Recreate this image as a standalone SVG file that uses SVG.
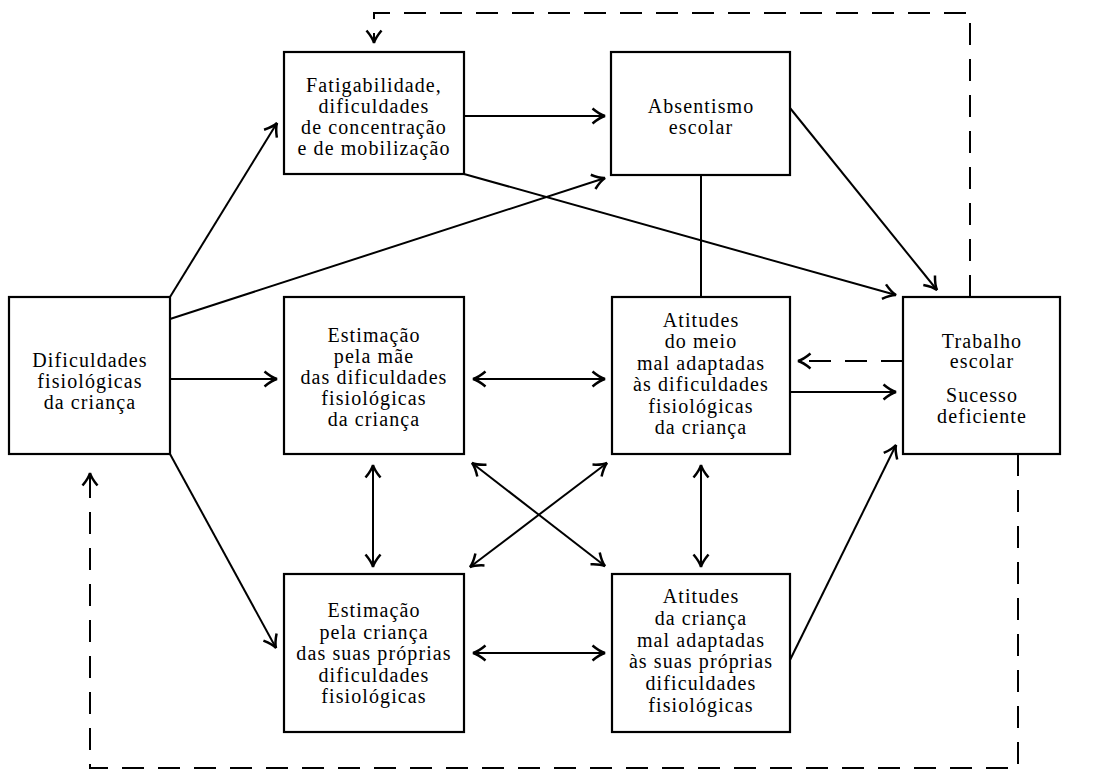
<svg xmlns="http://www.w3.org/2000/svg" width="1108" height="774" viewBox="0 0 1108 774">
<style>
.box{fill:#fff;stroke:#000;stroke-width:2.2}
.t{font-family:"Liberation Serif","Times New Roman",serif;font-size:20px;letter-spacing:1.1px;text-anchor:middle;fill:#000}
.c{fill:none;stroke:#000;stroke-width:2}
.a{marker-end:url(#ah)}
.b{marker-start:url(#ah);marker-end:url(#ah)}
.d{stroke-dasharray:22 14}
</style>
<defs>
<marker id="ah" markerUnits="userSpaceOnUse" markerWidth="20" markerHeight="20" viewBox="-12 -8 14 16" refX="0" refY="0" orient="auto-start-reverse">
<path d="M-10,-6 Q-4,-1 0,0 Q-4,1 -10,6" fill="none" stroke="#000" stroke-width="2"/>
</marker>
</defs>
<rect width="1108" height="774" fill="#fff"/>
<g id="connectors">
<line class="c a" x1="170" y1="297" x2="277" y2="123"/>
<line class="c a" x1="170" y1="319" x2="605" y2="178"/>
<line class="c a" x1="170" y1="379" x2="277" y2="379"/>
<line class="c a" x1="170" y1="454" x2="276" y2="648"/>
<line class="c a" x1="464" y1="116" x2="605" y2="116"/>
<line class="c a" x1="464" y1="174" x2="896" y2="295"/>
<line class="c a" x1="790" y1="108" x2="937" y2="290"/>
<line class="c" x1="701" y1="175" x2="701" y2="297"/>
<line class="c b" x1="473" y1="379" x2="605" y2="379"/>
<line class="c a" x1="790" y1="392" x2="896" y2="392"/>
<line class="c d a" x1="903" y1="361" x2="798" y2="361"/>
<line class="c b" x1="373" y1="465" x2="373" y2="567"/>
<line class="c b" x1="701" y1="465" x2="701" y2="567"/>
<line class="c b" x1="472" y1="463" x2="605" y2="566"/>
<line class="c b" x1="607" y1="463" x2="470" y2="567"/>
<line class="c b" x1="473" y1="653" x2="605" y2="653"/>
<line class="c a" x1="790" y1="660" x2="896" y2="445"/>
<polyline class="c d a" points="970,297 970,13 374,13 374,43"/>
<polyline class="c d a" points="1018,454 1018,768 90,768 90,473"/>
</g>
<g id="n_dificuldades">
<rect class="box" x="9" y="297" width="161" height="157"/>
<text class="t"><tspan x="90" y="367">Dificuldades</tspan><tspan x="90" y="388">fisiológicas</tspan><tspan x="90" y="409">da criança</tspan></text>
</g>
<g id="n_fatigabilidade">
<rect class="box" x="284" y="52" width="180" height="122"/>
<text class="t"><tspan x="374" y="92">Fatigabilidade,</tspan><tspan x="374" y="113">dificuldades</tspan><tspan x="374" y="134">de concentração</tspan><tspan x="374" y="155">e de mobilização</tspan></text>
</g>
<g id="n_absentismo">
<rect class="box" x="611" y="52" width="179" height="123"/>
<text class="t"><tspan x="701" y="113">Absentismo</tspan><tspan x="701" y="134">escolar</tspan></text>
</g>
<g id="n_estimacao_mae">
<rect class="box" x="284" y="297" width="180" height="157"/>
<text class="t"><tspan x="374" y="342">Estimação</tspan><tspan x="374" y="363">pela mãe</tspan><tspan x="374" y="384">das dificuldades</tspan><tspan x="374" y="405">fisiológicas</tspan><tspan x="374" y="426">da criança</tspan></text>
</g>
<g id="n_atitudes_meio">
<rect class="box" x="612" y="297" width="178" height="157"/>
<text class="t"><tspan x="701" y="327">Atitudes</tspan><tspan x="701" y="348">do meio</tspan><tspan x="701" y="370">mal adaptadas</tspan><tspan x="701" y="391">às dificuldades</tspan><tspan x="701" y="413">fisiológicas</tspan><tspan x="701" y="434">da criança</tspan></text>
</g>
<g id="n_trabalho">
<rect class="box" x="903" y="297" width="157" height="157"/>
<text class="t"><tspan x="982" y="348">Trabalho</tspan><tspan x="982" y="368">escolar</tspan><tspan x="982" y="402">Sucesso</tspan><tspan x="982" y="423">deficiente</tspan></text>
</g>
<g id="n_estimacao_crianca">
<rect class="box" x="284" y="574" width="180" height="158"/>
<text class="t"><tspan x="374" y="617">Estimação</tspan><tspan x="374" y="639">pela criança</tspan><tspan x="374" y="660">das suas próprias</tspan><tspan x="374" y="682">dificuldades</tspan><tspan x="374" y="703">fisiológicas</tspan></text>
</g>
<g id="n_atitudes_crianca">
<rect class="box" x="612" y="574" width="178" height="158"/>
<text class="t"><tspan x="701" y="603">Atitudes</tspan><tspan x="701" y="625">da criança</tspan><tspan x="701" y="647">mal adaptadas</tspan><tspan x="701" y="668">às suas próprias</tspan><tspan x="701" y="690">dificuldades</tspan><tspan x="701" y="712">fisiológicas</tspan></text>
</g>
</svg>
